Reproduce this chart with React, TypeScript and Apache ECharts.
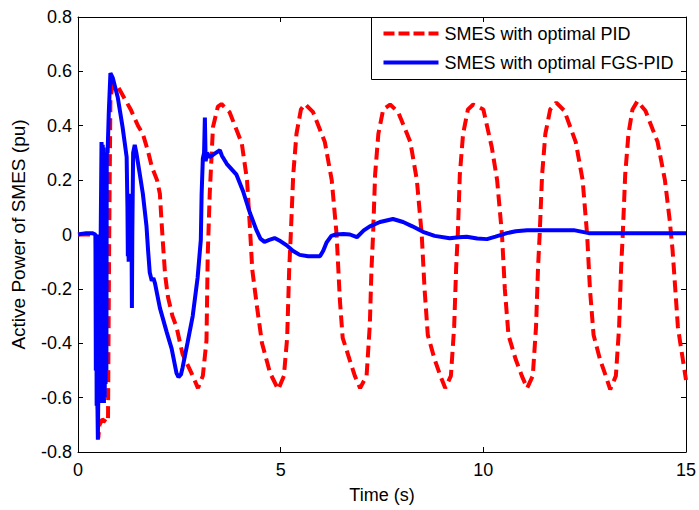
import React, { useEffect, useRef } from "react";
import * as echarts from "echarts";

const xTicks = { min: 0, max: 15, interval: 5 };
const yTicks = { min: -0.8, max: 0.8, interval: 0.2 };
const seriesNames = ["SMES with optimal PID", "SMES with optimal FGS-PID"];
const xName = "Time (s)";
const yName = "Active Power of SMES (pu)";

// SMES with optimal PID (red dashed)
const pidData: [number, number][] = [
  [0, 0], [0.44, 0], [0.47, -0.4], [0.5, -0.75], [0.53, -0.7], [0.6, -0.68], [0.7, -0.69], [0.74, -0.69],
  [0.77, 0.0], [0.8, 0.5], [0.86, 0.555], [1.0, 0.54], [1.15, 0.5], [1.3, 0.46], [1.48, 0.4], [1.6, 0.37],
  [1.72, 0.31], [1.82, 0.25], [1.95, 0.2], [2.02, 0.15], [2.06, 0.05], [2.09, -0.02], [2.15, -0.15],
  [2.22, -0.23], [2.33, -0.3], [2.43, -0.34], [2.58, -0.44], [2.8, -0.51], [2.96, -0.565],
  [3.08, -0.52], [3.17, -0.39], [3.2, -0.08], [3.25, 0.15], [3.33, 0.395], [3.45, 0.47], [3.54, 0.48],
  [3.74, 0.45], [4.04, 0.336], [4.17, 0.2], [4.24, 0.03], [4.3, -0.13], [4.42, -0.27], [4.54, -0.4], [4.74, -0.51], [4.94, -0.57],
  [5.08, -0.52], [5.16, -0.38], [5.21, -0.13], [5.25, 0.0], [5.31, 0.22], [5.39, 0.37], [5.5, 0.46], [5.6, 0.48],
  [5.8, 0.45], [6.09, 0.34], [6.26, 0.2], [6.38, 0.0], [6.46, -0.24], [6.53, -0.38], [6.7, -0.46], [6.83, -0.52], [6.96, -0.565],
  [7.12, -0.52], [7.2, -0.33], [7.24, -0.13], [7.28, 0.0], [7.33, 0.22], [7.41, 0.37], [7.53, 0.46], [7.7, 0.478],
  [7.9, 0.45], [8.2, 0.34], [8.36, 0.2], [8.48, 0.0], [8.55, -0.2], [8.63, -0.37], [8.8, -0.46], [8.94, -0.52], [9.06, -0.565],
  [9.2, -0.52], [9.28, -0.34], [9.33, -0.12], [9.37, 0.0], [9.42, 0.22], [9.5, 0.37], [9.62, 0.46], [9.75, 0.478],
  [10.0, 0.46], [10.21, 0.32], [10.34, 0.2], [10.46, 0.0], [10.53, -0.2], [10.62, -0.37], [10.8, -0.46], [10.95, -0.52], [11.08, -0.565],
  [11.22, -0.52], [11.3, -0.34], [11.35, -0.12], [11.39, 0.0], [11.45, 0.22], [11.53, 0.37], [11.65, 0.46], [11.8, 0.485],
  [12.0, 0.455], [12.28, 0.34], [12.45, 0.2], [12.56, 0.0], [12.63, -0.2], [12.72, -0.37], [12.88, -0.46], [13.02, -0.52], [13.13, -0.57],
  [13.27, -0.52], [13.35, -0.34], [13.4, -0.12], [13.44, 0.0], [13.5, 0.22], [13.58, 0.37], [13.68, 0.46], [13.8, 0.49],
  [14.0, 0.455], [14.3, 0.34], [14.48, 0.2], [14.6, 0.05], [14.67, -0.06], [14.8, -0.34], [14.86, -0.4], [15, -0.535],
];

// SMES with optimal FGS-PID (blue solid)
const fgsData: [number, number][] = [
  [0, 0], [0.2, 0.005], [0.35, 0.005], [0.43, 0], [0.44, -0.5], [0.45, 0], [0.46, -0.63], [0.47, -0.1],
  [0.48, -0.63], [0.49, -0.755], [0.5, -0.6], [0.51, 0.0], [0.52, -0.62], [0.53, -0.1], [0.54, -0.62],
  [0.56, 0.0], [0.58, 0.34], [0.59, 0.3], [0.6, -0.62], [0.61, 0.33], [0.62, -0.6], [0.63, 0.32],
  [0.64, -0.62], [0.65, 0.3], [0.66, -0.6], [0.67, 0.3], [0.68, -0.55], [0.69, 0.3], [0.7, -0.5],
  [0.71, 0.3], [0.73, 0.3], [0.76, 0.45],
  [0.8, 0.594], [0.86, 0.575], [0.92, 0.54], [0.98, 0.505], [1.04, 0.45], [1.1, 0.395], [1.15, 0.34],
  [1.2, 0.285], [1.22, 0.1], [1.23, -0.08], [1.24, 0.05], [1.25, -0.1], [1.26, 0.05], [1.28, -0.1],
  [1.3, 0.15], [1.32, 0.0], [1.33, -0.27], [1.34, 0.0], [1.36, 0.3], [1.4, 0.33], [1.44, 0.3],
  [1.52, 0.226], [1.6, 0.15],
  [1.69, 0.03], [1.73, -0.06], [1.77, -0.14], [1.82, -0.17], [1.86, -0.16], [1.9, -0.18], [2.02, -0.27],
  [2.19, -0.36], [2.31, -0.42], [2.43, -0.51], [2.48, -0.525], [2.54, -0.515], [2.58, -0.49], [2.7, -0.4],
  [2.83, -0.3], [2.95, -0.16], [3.03, -0.02], [3.05, 0.15], [3.08, 0.28], [3.11, 0.3], [3.13, 0.43],
  [3.15, 0.27], [3.18, 0.3], [3.25, 0.285], [3.4, 0.3], [3.5, 0.31], [3.55, 0.29], [3.67, 0.26],
  [3.91, 0.22], [4.07, 0.16], [4.24, 0.08], [4.4, 0.017], [4.5, -0.015], [4.6, -0.027], [4.72, -0.02],
  [4.85, -0.013], [5.0, -0.025], [5.15, -0.04], [5.3, -0.06], [5.47, -0.075], [5.68, -0.08], [5.97, -0.08],
  [6.05, -0.06], [6.13, -0.03], [6.25, -0.005], [6.36, 0], [6.55, 0.002], [6.71, 0], [6.88, -0.01],
  [7.05, 0.015], [7.2, 0.03], [7.45, 0.046], [7.77, 0.057], [8.02, 0.046], [8.25, 0.03], [8.51, 0.01],
  [8.8, -0.005], [9.17, -0.014], [9.4, -0.01], [9.59, -0.008], [9.85, -0.015], [10.09, -0.017],
  [10.3, -0.008], [10.58, 0.005], [10.8, 0.012], [11.08, 0.016], [12.23, 0.016], [12.6, 0.005], [15, 0.005],
];

const FONT = "'Liberation Sans', Arial, sans-serif";

export default function App() {
  const ref = useRef<HTMLDivElement>(null);
  useEffect(() => {
    document.body.style.margin = "0";
    if (!ref.current) return;
    const chart = echarts.init(ref.current, undefined, { renderer: "svg" });
    const axisCommon = {
      axisLine: { show: true, onZero: false, lineStyle: { color: "#000", width: 1 } },
      axisTick: { show: true, inside: true, length: 5, lineStyle: { color: "#000" } },
      splitLine: { show: false },
    };
    chart.setOption({
      animation: false,
      backgroundColor: "#fff",
      grid: { left: 78, right: 13, top: 17, bottom: 58, containLabel: false, outerBoundsMode: "none" },
      xAxis: [
        {
          type: "value", ...xTicks, ...axisCommon,
          name: xName, nameLocation: "middle", nameGap: 34,
          nameTextStyle: { fontFamily: FONT, fontSize: 18, color: "#000" },
          axisLabel: { fontFamily: FONT, fontSize: 18, color: "#000", margin: 9 },
        },
        { type: "value", position: "top", ...xTicks, ...axisCommon, axisLabel: { show: false } },
      ],
      yAxis: [
        {
          type: "value", ...yTicks, ...axisCommon,
          name: yName, nameLocation: "middle", nameGap: 50, nameRotate: 90,
          nameTextStyle: { fontFamily: FONT, fontSize: 19, color: "#000" },
          axisLabel: {
            fontFamily: FONT, fontSize: 18, color: "#000", margin: 6,
            formatter: (v: number) => String(Math.round(v * 10) / 10),
          },
        },
        { type: "value", position: "right", ...yTicks, ...axisCommon, axisLabel: { show: false } },
      ],
      series: [
        {
          name: seriesNames[0], type: "line", data: pidData, symbol: "none", showSymbol: false,
          lineStyle: { color: "#ff0000", width: 4, type: [12, 6] },
        },
        {
          name: seriesNames[1], type: "line", data: fgsData, symbol: "none", showSymbol: false,
          lineStyle: { color: "#0000ff", width: 4, type: "solid" },
        },
      ],
      graphic: [
        {
          type: "group", left: 371, top: 17,
          children: [
            { type: "rect", shape: { x: 0, y: 0, width: 315, height: 62 }, style: { fill: "#fff", stroke: "#000", lineWidth: 1 } },
            { type: "line", shape: { x1: 12, y1: 16, x2: 67, y2: 16 }, style: { stroke: "#ff0000", lineWidth: 4, lineDash: [11, 4] } },
            { type: "line", shape: { x1: 12, y1: 45, x2: 67, y2: 45 }, style: { stroke: "#0000ff", lineWidth: 4 } },
            { type: "text", x: 73, y: 16, style: { text: seriesNames[0], font: `18px ${FONT}`, fill: "#000", verticalAlign: "middle" } },
            { type: "text", x: 73, y: 45, style: { text: seriesNames[1], font: `18px ${FONT}`, fill: "#000", verticalAlign: "middle" } },
          ],
        },
      ],
    });
    return () => chart.dispose();
  }, []);
  return <div ref={ref} style={{ width: 699, height: 510 }} />;
}
